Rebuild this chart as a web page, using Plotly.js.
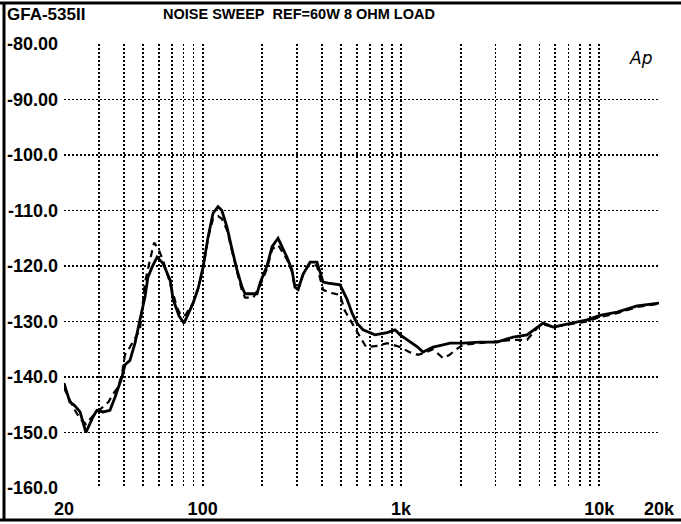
<!DOCTYPE html>
<html>
<head>
<meta charset="utf-8">
<script src="https://cdn.plot.ly/plotly-3.0.1.min.js"></script>
<style>
  html, body { margin: 0; padding: 0; background: #fff; }
  #chart { width: 681px; height: 524px; }
</style>
</head>
<body>
<div id="chart"></div>
<script>
// ---- data (frequency in Hz, level in dBr) ----
const solidFreq = [20, 21.4, 22.7, 24.1, 25.8, 28, 29.3, 31.5, 34.1, 36.2, 39.2, 40.6, 43, 45.6, 48.3, 51.2, 53, 55.6, 58.9, 63.1, 68.5, 71, 76, 80.6, 89.5, 95, 100.5, 106.5, 112.8, 119.6, 125, 132.7, 140.7, 149, 158, 163.6, 188, 195, 211, 224, 240, 266, 282, 292, 303, 321, 348, 377, 405, 429, 493, 535, 567, 600, 644, 740, 851, 934, 990, 1073, 1205, 1293, 1451, 1630, 1769, 2056, 2506, 3053, 3676, 4322, 4856, 5206, 5848, 7122, 8678, 10092, 12298, 15512, 20000];
const solidLevel = [-141.1, -144.5, -145.2, -146.3, -150, -147.2, -146, -146.3, -146, -143.6, -140, -137.8, -137, -133.9, -129.7, -125.6, -122, -120.2, -118.4, -119.5, -122.5, -126, -129, -130.3, -126.7, -124, -120.2, -114.8, -110.5, -109.3, -110, -113, -117, -120.7, -123.8, -125, -125, -123, -120, -116.5, -115, -118.4, -120.7, -123.8, -124.2, -121.5, -119.3, -119.3, -122.9, -123.1, -123.4, -126, -128.5, -130.3, -131.5, -132.4, -132, -131.5, -132.4, -133.3, -134.5, -135.5, -134.6, -134.2, -133.9, -133.9, -133.7, -133.7, -132.8, -132.4, -131, -130.3, -131, -130.3, -129.7, -128.9, -128.3, -127.2, -126.7];

const dashFreq = [20, 22.7, 24.1, 25.8, 28, 29.3, 31.5, 33.5, 35.5, 37.5, 39.2, 40.6, 43, 48.3, 49.5, 51.2, 53.8, 56.9, 60, 63.1, 68.5, 74.3, 78, 82, 86.4, 89.5, 95, 100.5, 106.5, 112.8, 119.6, 125, 132.7, 140.7, 149, 158, 163.6, 180, 195, 211, 224, 240, 266, 282, 292, 303, 321, 348, 377, 405, 450, 493, 520, 567, 620, 667, 760, 851, 990, 1100, 1220, 1300, 1451, 1630, 1760, 1900, 2056, 2506, 3053, 3676, 4322, 4856, 5206, 5848, 7122, 8678, 10092, 12298, 15512, 20000];
const dashLevel = [-142, -146, -147.5, -148.5, -147, -146.3, -145.4, -144.5, -143, -141.8, -139.5, -136, -134.6, -131.5, -128, -123, -119.5, -115.8, -117, -119, -123, -127.5, -129, -128.8, -127.5, -126.7, -124, -120.5, -115, -111.5, -111, -111.5, -113.5, -117.5, -121, -124.5, -125.7, -125.7, -123.5, -120.5, -117, -116.2, -118.8, -121, -124, -124.3, -121.5, -119.5, -120, -124.3, -124.9, -125.2, -128, -130.3, -132.8, -134.6, -134.4, -133.9, -134.6, -135.5, -136, -135.7, -135, -136.6, -136, -135, -134.2, -133.9, -133.7, -133.3, -133.3, -131.2, -130.5, -131, -130.5, -130, -129.2, -128.5, -127.4, -126.8];

// ---- axis ticks / grid ----
const xGridVals = [20, 30, 40, 50, 60, 70, 80, 90, 100, 200, 300, 400, 500, 600, 700, 800, 900, 1000, 2000, 3000, 4000, 5000, 6000, 7000, 8000, 9000, 10000, 20000];
const xGridText = ['20', '', '', '', '', '', '', '', '100', '', '', '', '', '', '', '', '', '1k', '', '', '', '', '', '', '', '', '10k', '20k'];
const yTickVals = [-160, -150, -140, -130, -120, -110, -100, -90, -80];
const yTickText = ['-160.0', '-150.0', '-140.0', '-130.0', '-120.0', '-110.0', '-100.0', '-90.00', '-80.00'];

const headerLeft = 'GFA-535II';
const headerRight = 'NOISE SWEEP&nbsp;&nbsp;REF=60W 8 OHM LOAD';
const logoText = 'Ap';

const FONT = '"Liberation Sans", Arial, sans-serif';

const traces = [
  {
    x: solidFreq, y: solidLevel, type: 'scatter', mode: 'lines',
    line: { color: '#000', width: 2.8, shape: 'linear' },
    hoverinfo: 'skip', showlegend: false
  },
  {
    x: dashFreq, y: dashLevel, type: 'scatter', mode: 'lines',
    line: { color: '#000', width: 2.2, dash: '7px,5px' },
    hoverinfo: 'skip', showlegend: false
  }
];

const W = 681, H = 524, L = 64, R = 22, T = 44, B = 36;
const pw = W - L - R, ph = H - T - B;
const px = v => (v - L) / pw;          // pixel x -> paper x
const py = v => (H - B - v) / ph;      // pixel y -> paper y

const layout = {
  width: W, height: H,
  margin: { l: L, r: R, t: T, b: B, pad: 0 },
  paper_bgcolor: '#fff', plot_bgcolor: '#fff',
  showlegend: false,
  font: { family: FONT, color: '#000' },
  xaxis: {
    type: 'log',
    range: [Math.log10(20), Math.log10(20000)],
    tickmode: 'array', tickvals: xGridVals, ticktext: xGridText,
    showgrid: true, gridcolor: '#000', gridwidth: 1.8, griddash: '2px,2px',
    showline: false, zeroline: false, ticks: '', ticklabelstandoff: 8,
    tickfont: { family: FONT, size: 18, weight: 'bold', color: '#000' },
    fixedrange: true
  },
  yaxis: {
    range: [-160, -80],
    tickmode: 'array', tickvals: yTickVals, ticktext: yTickText,
    showgrid: true, gridcolor: '#000', gridwidth: 1.8, griddash: '2px,2px',
    showline: false, zeroline: false, ticks: '', ticklabelstandoff: 5,
    tickfont: { family: FONT, size: 18, weight: 'bold', color: '#000' },
    fixedrange: true
  },
  annotations: [
    { text: headerLeft, xref: 'paper', yref: 'paper', x: px(5), y: py(14), xanchor: 'left', yanchor: 'middle',
      showarrow: false, font: { family: FONT, size: 17, weight: 'bold', color: '#000' } },
    { text: headerRight, xref: 'paper', yref: 'paper', x: px(161), y: py(14), xanchor: 'left', yanchor: 'middle',
      showarrow: false, font: { family: FONT, size: 14.5, weight: 'bold', color: '#000' } },
    { text: logoText, xref: 'paper', yref: 'paper', x: px(641), y: py(58), xanchor: 'center', yanchor: 'middle',
      showarrow: false, font: { family: '"DejaVu Sans", sans-serif', size: 17, style: 'italic', color: '#000' } }
  ],
  shapes: [
    { type: 'line', xref: 'paper', yref: 'paper', x0: px(0), x1: px(W + 5), y0: py(3), y1: py(3), line: { color: '#000', width: 3 } },
    { type: 'line', xref: 'paper', yref: 'paper', x0: px(4), x1: px(4), y0: py(2), y1: py(521), line: { color: '#000', width: 3 } },
    { type: 'line', xref: 'paper', yref: 'paper', x0: px(0), x1: px(W + 5), y0: py(520), y1: py(520), line: { color: '#000', width: 3 } }
  ]
};

Plotly.newPlot('chart', traces, layout, { displayModeBar: false, staticPlot: true });
</script>
</body>
</html>
